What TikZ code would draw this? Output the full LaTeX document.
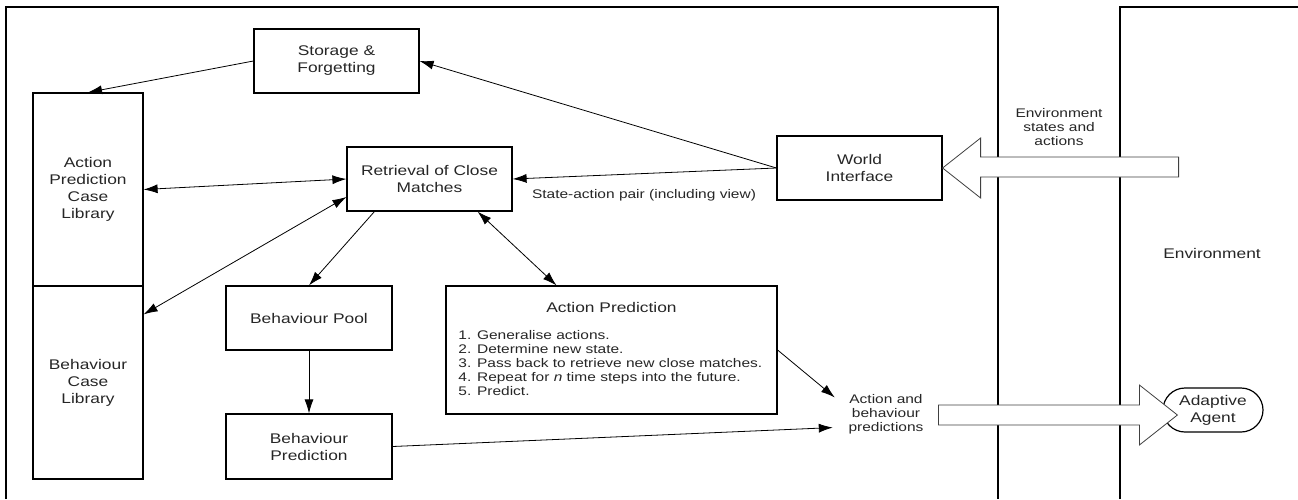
\documentclass[tikz,border=0pt]{standalone}
\usepackage{fontspec}
\setmainfont{Liberation Sans}[FakeStretch=1.24]
\usetikzlibrary{arrows.meta}
\newcommand{\boxfont}{\fontsize{14}{17}\selectfont}
\newcommand{\notefont}{\fontsize{12.5}{14}\selectfont}
\tikzset{
	block/.style    = {draw, line width=1.2pt, rectangle, minimum width=165pt,
		minimum height=64pt, align=center, font=\boxfont},
	library/.style  = {block, minimum width=110pt, minimum height=193pt},
	agentbox/.style = {draw, line width=1.2pt, rounded corners=22pt,
		minimum width=100pt, minimum height=44pt, align=center, font=\boxfont},
	note/.style     = {align=center, font=\notefont}, % free text
	bigarrow/.style = {draw=black!75, line width=0.8pt, fill=white},
	panel/.style    = {line width=1.3pt} % frames
}

\begin{document}
\begin{tikzpicture}[x=1pt, y=-1pt, line width=0.8pt, text=black!85, >={Latex[length=14pt,width=9pt]}]
	\useasboundingbox (0,0) rectangle (1298,499);
	\draw[panel] (6,499) -- (6,7) -- (998,7) -- (998,499);
	\draw[panel] (1120,499) -- (1120,7) -- (1298,7);
	\draw
	node at (336.5,61) [block] (sf) {Storage \&\\Forgetting}
	node at (88,189.5) [library] (aplib) {Action\\Prediction\\Case\\Library}
	node at (88,382.5) [library] (bclib) {Behaviour\\Case\\Library}
	node at (429.5,179) [block] (rcm) {Retrieval of Close\\Matches}
	node at (859.5,168) [block] (wi) {World\\Interface}
	node at (309,318) [block, minimum width=166pt] (bp) {Behaviour Pool}
	node at (309,446.5) [block, minimum width=166pt, minimum height=65pt] (bpred) {Behaviour\\Prediction}
	node at (611.5,350) [block, minimum width=331pt, minimum height=128pt] (ap) {}
	node at (611.5,307) [font=\boxfont] (aptitle) {Action Prediction}
	node at (458,330) [anchor=north west, inner sep=0pt, align=left, font=\notefont] (aplist)
		{1. Generalise actions.\\2. Determine new state.\\3. Pass back to retrieve new close matches.\\4. Repeat for \textit{n} time steps into the future.\\5. Predict.}
	node at (886,414) [note] (abp) {Action and\\behaviour\\predictions}
	node at (1059,127) [note] (envin) {Environment\\states and\\actions}
	node at (644,195) [note] (sap) {State-action pair (including view)}
	node at (1212,253) [font=\boxfont] (env) {Environment}
	node at (1213,410) [agentbox] (agent) {Adaptive\\Agent};
	
	\draw[->] (sf.west) -- (aplib.north);
	\draw[->] (wi.west) -- (sf.east);
	\draw[->] (wi.west) -- (rcm.east);
	\draw[<->] (aplib.east) -- (rcm.west);
	\draw[<->] ([yshift=-29pt]bclib.north east) -- ([yshift=-18pt]rcm.west);
	\draw[->] ([xshift=28pt]rcm.south west) -- (bp.north);
	\draw[<->] ([xshift=-35pt]rcm.south east) -- ([xshift=-55pt]ap.north);
	\draw[->] (bp) -- (bpred);
	\draw[->] (ap.east) -- ([shift={(-10pt,-7pt)}]abp.north west);
	\draw[->] (bpred.east) -- ([shift={(-12pt,10pt)}]abp.south west);
	\draw[bigarrow] (wi.east) -- ++(38,-30) -- ++(0,19) -- ++(198,0) -- ++(0,20) -- ++(-198,0) -- ++(0,21) -- cycle;
	\draw[bigarrow] ([shift={(15pt,-5pt)}]agent.west) -- ++(-38,-30) -- ++(0,20) -- ++(-201,0) -- ++(0,20) -- ++(201,0) -- ++(0,20) -- cycle;
\end{tikzpicture}
\end{document}
